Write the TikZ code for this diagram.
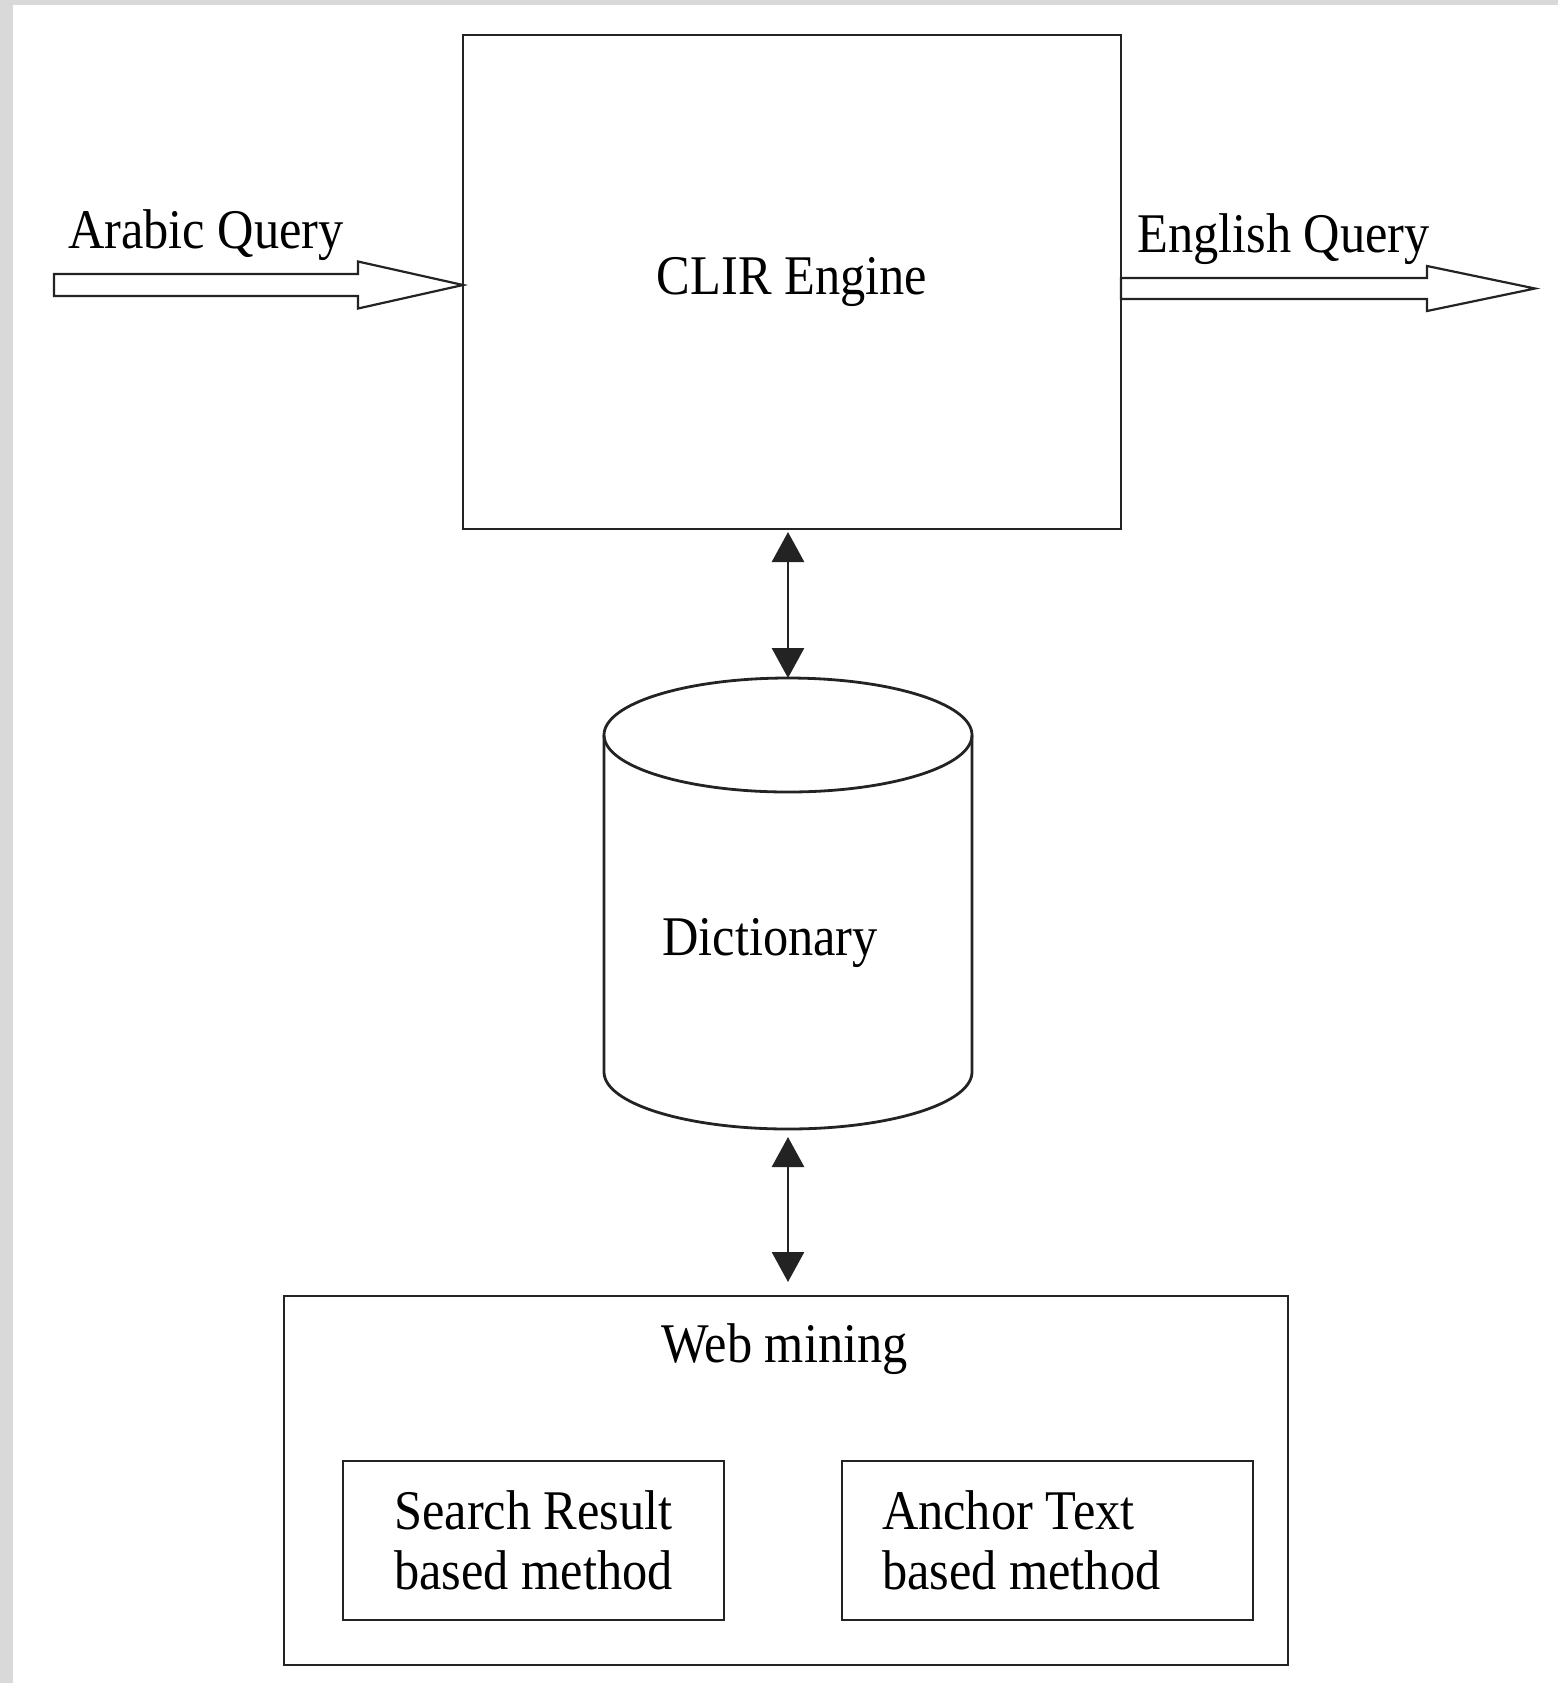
\documentclass[tikz,border=0pt]{standalone}
\usepackage{fontspec}
\setmainfont{Liberation Serif}[FakeStretch=0.9]
\usetikzlibrary{arrows.meta,calc}
\definecolor{framegray}{RGB}{217,217,217}
\definecolor{ink}{RGB}{35,35,35}
\begin{document}
\begin{tikzpicture}[x=0.5pt,y=-0.5pt,
  every node/.style={font=\fontsize{28}{30}\selectfont, text=black, inner sep=0pt, outer sep=0pt},
  boxnode/.style={draw=ink, line width=1.4pt, rectangle},
  blockarrow/.style={draw=ink, line width=1.1pt, fill=white, line join=miter},
  duplex/.style={draw=ink, line width=1.4pt, {Triangle[width=16pt,length=15pt]}-{Triangle[width=16pt,length=15pt]}},
  shape line/.style={draw=ink, line width=1.4pt}]
% frame
\fill[framegray] (0,0) rectangle (1558,1683);
\fill[white] (13,5) rectangle (1558,1683);
\useasboundingbox (0,0) rectangle (1558,1683);

% nodes
\node[boxnode, minimum width=329pt, minimum height=247pt] (clir) at (792,282) {CLIR Engine};
\node[rectangle, minimum width=184pt, minimum height=225.5pt] (dict) at (788,903.5) {};
\node[anchor=base] (dicttext) at (770,955) {Dictionary};
\node[boxnode, minimum width=502pt, minimum height=184.5pt] (web) at (786,1480.5) {};
\node[anchor=base] (webtitle) at (784.5,1362) {Web mining};
\node[boxnode, minimum width=190.5pt, minimum height=79.5pt, align=center] (search) at (533.5,1540.5) {Search Result\\based method};
\node[boxnode, minimum width=205.5pt, minimum height=79.5pt] (anchor) at (1047.5,1540.5) {};
\node[align=left, anchor=west] (anchortext) at (882,1540.5) {Anchor Text\\based method};
\node[anchor=base] (arq) at (206,248) {Arabic Query};
\node[anchor=base] (enq) at (1283.5,252) {English Query};

% cylinder
\draw[shape line] ($(dict.north)+(0,57)$) ellipse [x radius=92pt, y radius=28.5pt];
\draw[shape line] ($(dict.north)+(-184,57)$) -- ($(dict.south)+(-184,-57)$)
  arc[start angle=180, end angle=360, x radius=92pt, y radius=28.5pt]
  -- ($(dict.north)+(184,57)$);

% block arrows
\coordinate (aqtail) at (54,285);
\coordinate (aqtip) at (clir.west |- aqtail);
\draw[blockarrow] ($(aqtail)+(0,-11)$) -- ($(aqtip)+(-105,-11)$) -- ($(aqtip)+(-105,-23.5)$)
  -- (aqtip) -- ($(aqtip)+(-105,23.5)$) -- ($(aqtip)+(-105,11)$) -- ($(aqtail)+(0,11)$) -- cycle;
\coordinate (eqtip) at (1535,288.5);
\coordinate (eqtail) at (clir.east |- eqtip);
\draw[blockarrow] ($(eqtail)+(0,-10.5)$) -- ($(eqtip)+(-108,-10.5)$) -- ($(eqtip)+(-108,-22.5)$)
  -- (eqtip) -- ($(eqtip)+(-108,22.5)$) -- ($(eqtip)+(-108,10.5)$) -- ($(eqtail)+(0,10.5)$) -- cycle;

% double arrows
\draw[duplex, shorten <=1.5pt] (clir.south -| dict.north) -- (dict.north);
\draw[duplex, shorten <=4pt, shorten >=7pt] (dict.south) -- (web.north -| dict.south);
\end{tikzpicture}
\end{document}
